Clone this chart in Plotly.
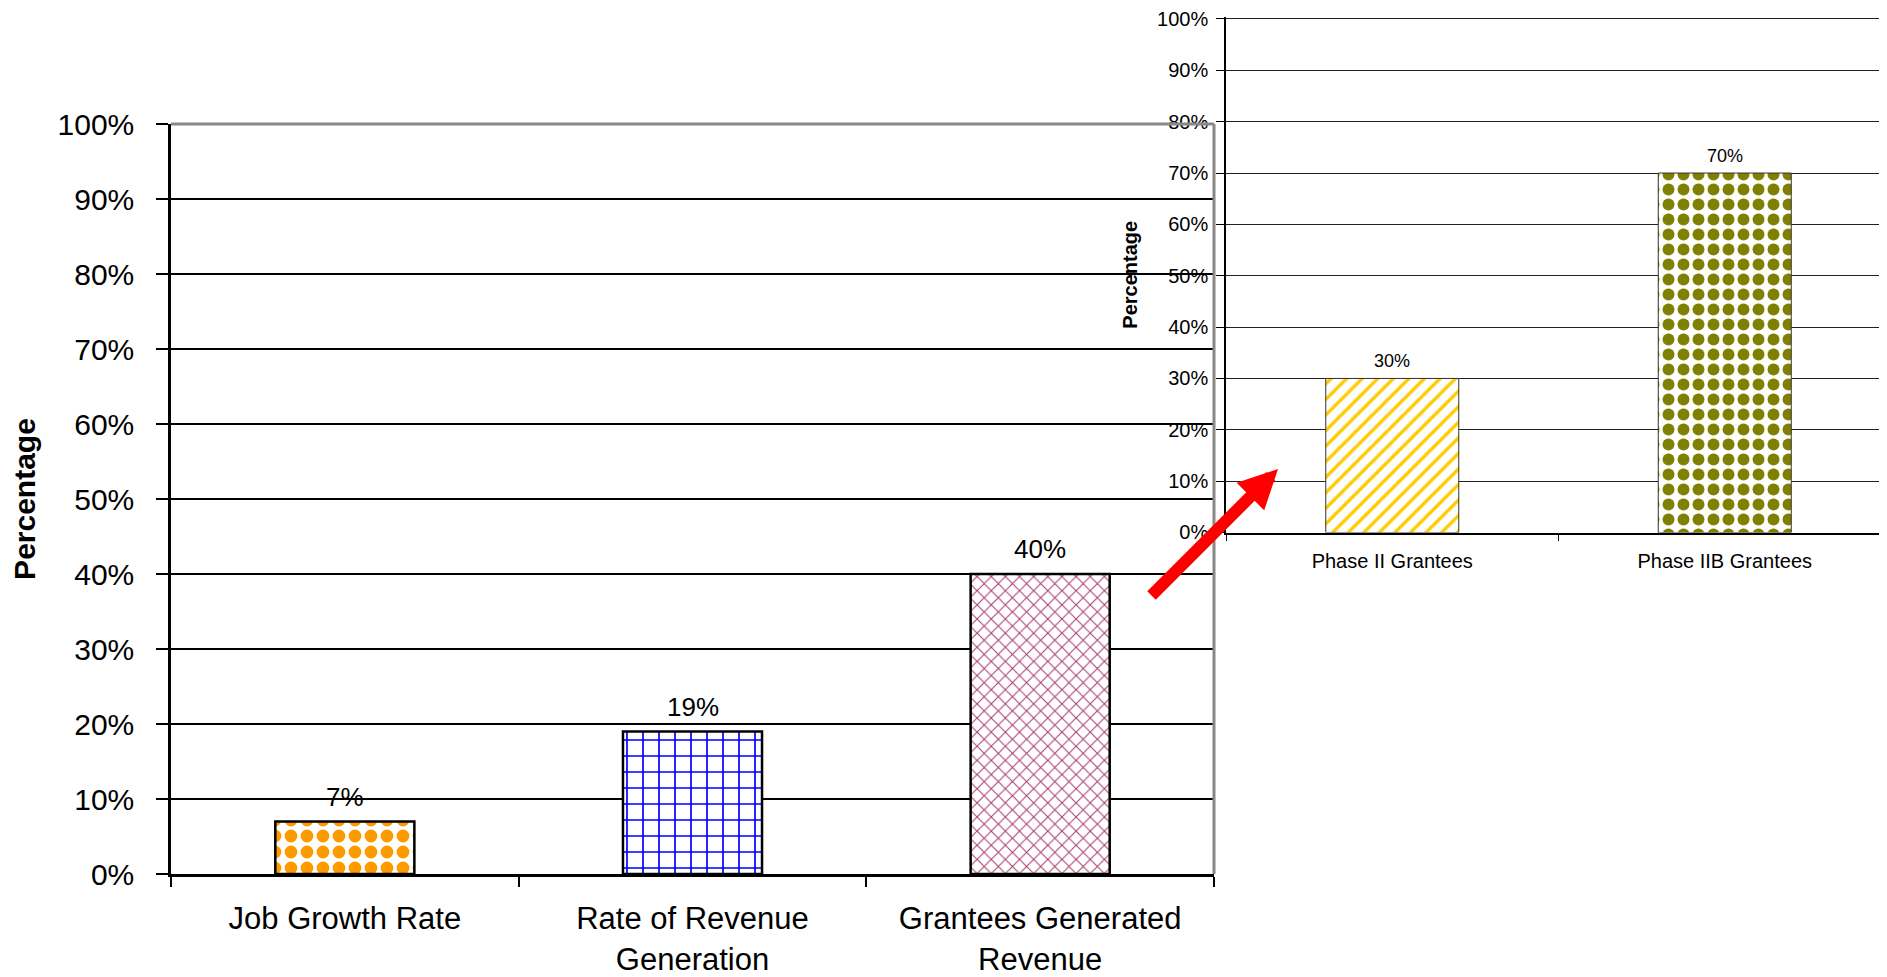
import plotly.graph_objects as go

# ---- data ----
main_categories = ["Job Growth Rate", "Rate of Revenue<br>Generation", "Grantees Generated<br>Revenue"]
main_values = [7, 19, 40]
main_colors = ["#FF9900", "#0000FF", "#A8406E"]
main_shapes = [".", "+", "x"]

inset_categories = ["Phase II Grantees", "Phase IIB Grantees"]
inset_values = [30, 70]
inset_colors = ["#FFCC00", "#808000"]
inset_shapes = ["/", "."]

y_ticks = [0, 10, 20, 30, 40, 50, 60, 70, 80, 90, 100]
y_title = "Percentage"

# page body has an 8px default margin -> offset everything
OFF = 8
W, H = 1887 - OFF, 977 - OFF
FONT = "Arial, Liberation Sans, sans-serif"


def px(x):
    return (x - OFF) / W


def py(y):
    return 1 - (y - OFF) / H


fig = go.Figure()

fig.add_trace(go.Bar(
    x=main_categories, y=main_values, xaxis="x", yaxis="y",
    width=0.4,
    marker=dict(
        color="white",
        line=dict(color="black", width=2.5),
        pattern=dict(shape=main_shapes, fgcolor=main_colors, bgcolor="white", fgopacity=1,
                     size=[16, 16, 10], solidity=[0.5, 0.2, 0.2], fillmode="replace"),
    ),
    showlegend=False, hoverinfo="skip",
))

fig.add_trace(go.Bar(
    x=inset_categories, y=inset_values, xaxis="x2", yaxis="y2",
    width=0.4,
    marker=dict(
        color="white",
        line=dict(color="#333333", width=1),
        pattern=dict(shape=inset_shapes, fgcolor=inset_colors, bgcolor="white", fgopacity=1,
                     size=[11, 15], solidity=[0.3, 0.5], fillmode="replace"),
    ),
    showlegend=False, hoverinfo="skip",
))

annotations = []
for c, v in zip(main_categories, main_values):
    annotations.append(dict(x=c, y=v, xref="x", yref="y", text=f"{v}%", showarrow=False,
                            yanchor="bottom", yshift=8, font=dict(family=FONT, size=26, color="black")))
for c, v in zip(inset_categories, inset_values):
    annotations.append(dict(x=c, y=v, xref="x2", yref="y2", text=f"{v}%", showarrow=False,
                            yanchor="bottom", yshift=5, font=dict(family=FONT, size=18, color="black")))

# red arrow
annotations.append(dict(x=px(1278), y=py(469), xref="paper", yref="paper",
                        ax=-128, ay=128, text="", showarrow=True,
                        arrowhead=2, arrowsize=0.65, arrowwidth=12, arrowcolor="#FF0000"))

main_x_dom = [px(171), px(1214)]
main_y_dom = [py(874), py(124)]
ins_x_dom = [px(1226), 1.0]
INS_TOP = 100.4
INS_Y0, INS_Y100 = 532.5, 19.0
ins_step = (INS_Y0 - INS_Y100) / 100
ins_y_dom = [py(INS_Y0), py(INS_Y100 - (INS_TOP - 100) * ins_step)]
ins_range_end = -0.5 + (1887 - 1226) / 332.5

fig.update_layout(
    width=W, height=H,
    margin=dict(l=0, r=0, t=0, b=0, autoexpand=False),
    paper_bgcolor="white", plot_bgcolor="rgba(0,0,0,0)",
    font=dict(family=FONT, color="black"),
    xaxis=dict(domain=main_x_dom, anchor="y", type="category", automargin=False,
               range=[-0.5, 2.5], tickson="boundaries",
               ticks="outside", ticklen=10, tickwidth=2, tickcolor="black",
               showline=True, linecolor="black", linewidth=3,
               showgrid=False, tickfont=dict(size=31, family=FONT),
               ticklabelstandoff=15, ticklabeloverflow="allow"),
    yaxis=dict(domain=main_y_dom, anchor="x", range=[0, 100], automargin=False,
               tickvals=y_ticks, ticktext=[f"{t}%" for t in y_ticks],
               ticks="outside", ticklen=12, tickwidth=2, tickcolor="black",
               showline=True, linecolor="black", linewidth=2.5,
               showgrid=True, gridcolor="black", gridwidth=2, zeroline=False,
               tickfont=dict(size=30, family=FONT), ticklabelstandoff=16,
               ticklabeloverflow="allow",
               title=dict(text=f"<b>{y_title}</b>", font=dict(size=30, family=FONT), standoff=22)),
    xaxis2=dict(domain=ins_x_dom, anchor="y2", type="category", automargin=False,
                range=[-0.5, ins_range_end], tickson="boundaries",
                ticks="outside", ticklen=7, tickwidth=1, tickcolor="black",
                showline=True, linecolor="black", linewidth=1.5,
                showgrid=False, tickfont=dict(size=20, family=FONT),
                ticklabelstandoff=10, ticklabeloverflow="allow"),
    yaxis2=dict(domain=ins_y_dom, anchor="x2", range=[0, INS_TOP], automargin=False,
                tickvals=y_ticks, ticktext=[f"{t}%" for t in y_ticks],
                ticks="outside", ticklen=8, tickwidth=1, tickcolor="black",
                showline=True, linecolor="black", linewidth=1.5,
                showgrid=True, gridcolor="#222222", gridwidth=1, zeroline=False,
                tickfont=dict(size=20, family=FONT), ticklabelstandoff=4,
                ticklabeloverflow="allow",
                title=dict(text=f"<b>{y_title}</b>", font=dict(size=20, family=FONT), standoff=14)),
    annotations=annotations,
    shapes=[
        dict(type="line", xref="paper", yref="paper",
             x0=main_x_dom[0], x1=main_x_dom[1], y0=main_y_dom[1], y1=main_y_dom[1],
             line=dict(color="#888888", width=3), layer="above"),
        dict(type="line", xref="paper", yref="paper",
             x0=main_x_dom[1], x1=main_x_dom[1], y0=main_y_dom[0], y1=main_y_dom[1],
             line=dict(color="#888888", width=3), layer="above"),
    ],
)

fig.write_html("out.html")
